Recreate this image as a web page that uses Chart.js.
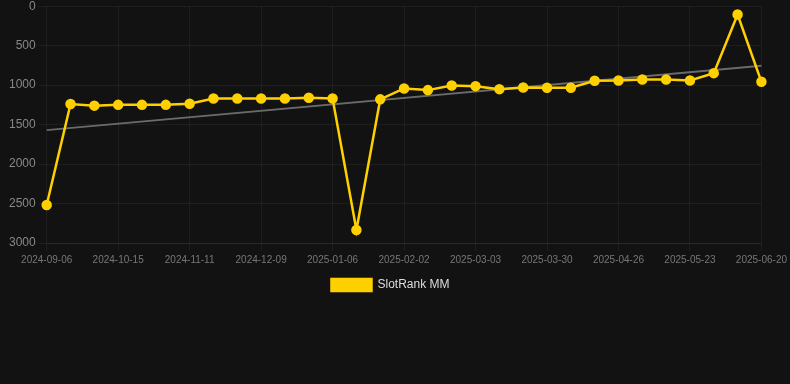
<!DOCTYPE html>
<html>
<head>
<meta charset="utf-8">
<script src="https://cdn.jsdelivr.net/npm/chart.js@4/dist/chart.umd.min.js"></script>
<style>
  html, body { margin: 0; padding: 0; background: #121212; overflow: hidden; }
  #wrap { width: 790px; height: 305px; position: relative; margin-top: -4px; }
</style>
</head>
<body>
<div id="wrap"><canvas id="rankChart"></canvas></div>
<script>
const dates = [
    '2024-09-06', '2024-09-24', '2024-10-06', '2024-10-15', '2024-10-24', '2024-11-02',
    '2024-11-11', '2024-11-20', '2024-11-30', '2024-12-09', '2024-12-18', '2024-12-28',
    '2025-01-06', '2025-01-15', '2025-01-24', '2025-02-02', '2025-02-12', '2025-02-21',
    '2025-03-03', '2025-03-12', '2025-03-21', '2025-03-30', '2025-04-08', '2025-04-17',
    '2025-04-26', '2025-05-05', '2025-05-14', '2025-05-23', '2025-06-01', '2025-06-10',
    '2025-06-20'
];
const ranks = [
    2519, 1240, 1260, 1250, 1250, 1250, 1235, 1170, 1170, 1170, 1170, 1160,
    1170, 2835, 1180, 1042, 1063, 1004, 1013, 1051, 1030, 1034, 1034, 945,
    941, 928, 928, 941, 848, 105, 958
];
// trend line: start and end only
const trendStart = 1570;
const trendEnd = 755;

const ctx = document.getElementById('rankChart').getContext('2d');

new Chart(ctx, {
    type: 'line',
    data: {
        labels: dates,
        datasets: [
            {
                label: 'SlotRank MM',
                data: ranks,
                borderColor: '#ffd000',
                backgroundColor: '#ffd000',
                borderWidth: 2.5,
                pointRadius: 4,
                pointHoverRadius: 5,
                tension: 0
            },
            {
                label: 'trend',
                data: [
                    { x: dates[0], y: trendStart },
                    { x: dates[dates.length - 1], y: trendEnd }
                ],
                borderColor: '#6a6a6a',
                borderWidth: 2,
                pointRadius: 0,
                tension: 0
            }
        ]
    },
    options: {
        responsive: true,
        maintainAspectRatio: false,
        animation: false,
        layout: { padding: { left: 6, right: 15 } },
        scales: {
            x: {
                grid: { color: 'rgba(255,255,255,0.05)' },
                border: { color: 'rgba(255,255,255,0.05)' },
                ticks: {
                    autoSkip: false,
                    maxRotation: 0,
                    color: '#777',
                    font: { family: 'Liberation Sans, Arial, sans-serif', size: 10 },
                    callback: function (val, i) {
                        return i % 3 === 0 ? this.getLabelForValue(val) : null;
                    }
                }
            },
            y: {
                reverse: true,
                min: 0,
                max: 3000,
                grid: { color: 'rgba(255,255,255,0.05)' },
                border: { display: false },
                ticks: {
                    stepSize: 500,
                    color: '#888',
                    font: { family: 'Liberation Sans, Arial, sans-serif', size: 12 },
                    callback: v => String(v)
                }
            }
        },
        plugins: {
            legend: {
                position: 'bottom',
                labels: {
                    color: '#ddd',
                    boxWidth: 40,
                    boxHeight: 12,
                    font: { family: 'Liberation Sans, Arial, sans-serif', size: 12 },
                    filter: item => item.text !== 'trend'
                }
            },
            tooltip: { enabled: false }
        }
    }
});
</script>
</body>
</html>
